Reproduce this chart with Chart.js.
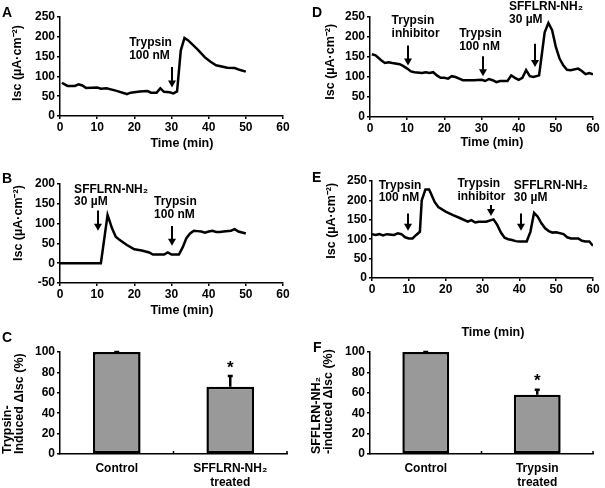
<!DOCTYPE html>
<html>
<head>
<meta charset="utf-8">
<script src="https://cdn.jsdelivr.net/npm/chart.js@4.4.1/dist/chart.umd.min.js"></script>
<style>
  body { margin: 0; background: #fff; width: 605px; height: 488px; position: relative; overflow: hidden;
         font-family: "Liberation Sans", Arial, sans-serif; }
  canvas { position: absolute; }
  .tag { position: absolute; font-weight: bold; font-size: 14px; line-height: 1; color: #000; }
</style>
</head>
<body>
<canvas id="cA" width="300" height="160" style="left:0;top:0"></canvas>
<canvas id="cB" width="300" height="160" style="left:0;top:160px"></canvas>
<canvas id="cC" width="300" height="168" style="left:0;top:320px"></canvas>
<canvas id="cD" width="305" height="160" style="left:300px;top:0"></canvas>
<canvas id="cE" width="305" height="180" style="left:300px;top:160px"></canvas>
<canvas id="cF" width="305" height="148" style="left:300px;top:340px"></canvas>
<div class="tag" style="left:2px;top:5px">A</div>
<div class="tag" style="left:2px;top:171px">B</div>
<div class="tag" style="left:2px;top:330px">C</div>
<div class="tag" style="left:312px;top:5px">D</div>
<div class="tag" style="left:312px;top:170px">E</div>
<div class="tag" style="left:313px;top:340px">F</div>
<script>
// panel A: trypsin alone
const timeA = [0.5, 2, 4, 5, 6, 7, 10, 11, 12.5, 15, 17.5, 18, 19, 21.5, 23.5, 24.5, 26, 27, 28, 29.5, 30.5, 31.5, 32.5, 33.5, 34.5, 37, 39, 40.5, 42, 45, 47, 48.5, 50];
const iscA  = [84, 76, 76, 80, 77, 71, 72, 69, 70, 64, 57, 55, 59, 62, 63, 59, 59, 70, 61, 60, 57, 62, 166, 197, 191, 168, 148, 137, 128, 122, 121, 116, 112];

// panel B: SFFLRN-NH2 then trypsin
const timeB = [0, 11, 12.8, 14, 15, 16, 18, 20, 22, 24, 25, 28, 29, 30, 32, 33, 34, 35, 36, 37, 38, 39, 40, 41, 42, 43, 44, 46, 47, 48, 50];
const iscB  = [0, 0, 122, 88, 67, 59, 46, 35, 32, 27, 22, 22, 27, 22, 22, 40, 63, 75, 82, 81, 80, 77, 80, 82, 79, 79, 80, 82, 86, 80, 75];

// panel D: inhibitor, trypsin, SFFLRN-NH2
const timeD = [0.5, 1.5, 3, 4, 5, 6, 8, 9, 10, 11, 12, 14, 15, 16, 17, 18, 19, 20, 21, 22, 23, 24, 25, 28, 30, 31, 32, 33, 34, 35, 37, 38, 39, 40, 41, 42, 43, 44, 45.5, 46, 47, 48, 49, 50, 51, 52, 53, 54, 56, 57, 58, 59, 60];
const iscD  = [157, 154, 142, 135, 137, 135, 132, 127, 121, 114, 112, 110, 112, 110, 112, 104, 98, 98, 96, 102, 100, 96, 92, 92, 93, 90, 95, 92, 87, 90, 90, 104, 98, 93, 98, 117, 102, 100, 104, 140, 212, 235, 217, 175, 146, 129, 118, 117, 121, 115, 107, 110, 107];

// panel E: trypsin, inhibitor, SFFLRN-NH2
const timeE = [0, 1, 2, 3, 4, 6, 7, 8, 9, 10, 11, 12, 13, 13.5, 14.5, 15.5, 16, 17, 18, 20, 22, 24, 26, 27, 28, 29, 31, 33, 34, 35, 36, 37, 38, 39, 40, 42, 43, 44, 45, 46, 47, 48, 49, 50, 52, 53, 54, 56, 57, 58, 59, 60];
const iscE  = [113, 111, 113, 110, 113, 111, 115, 113, 105, 102, 102, 111, 119, 200, 228, 228, 218, 196, 183, 171, 162, 154, 145, 149, 143, 145, 145, 151, 137, 117, 104, 100, 98, 95, 94, 94, 119, 168, 158, 141, 128, 121, 117, 118, 113, 105, 102, 102, 96, 94, 94, 83];

// panels C and F: normalised responses (%)
const groupsC = ["Control", ["SFFLRN-NH\u2082", "treated"]];
const valuesC = [100, 66];
const errorsC = [0, 10.5];
const starsC  = ["", "*"];

const groupsF = ["Control", ["Trypsin", "treated"]];
const valuesF = [100, 58];
const errorsF = [0, 5];
const starsF  = ["", "*"];

const FONT = '"Liberation Sans", Arial, sans-serif';
Chart.defaults.font.family = FONT;
Chart.defaults.color = "#000";

const tickFont = { size: 12, weight: "bold" };
const titleFont = { size: 12.5, weight: "bold", lineHeight: 1.2 };
const ISC = "Isc (\u00b5A\u00b7cm\u207b\u00b2)";
const TIME = "      Time (min)";
// leading blanks nudge the centred titles like in the figure
const pad = n => " ".repeat(n);

// text labels and drug-addition arrows, given in data units
function marks(notes, arrows) {
  return {
    id: "marks",
    afterDatasetsDraw(chart) {
      const { ctx, scales: { x, y } } = chart;
      ctx.save();
      ctx.fillStyle = "#000";
      ctx.strokeStyle = "#000";
      ctx.font = "bold 12px " + FONT;
      ctx.textAlign = "left";
      ctx.textBaseline = "middle";
      for (const n of notes) {
        const px = x.getPixelForValue(n.x);
        const py = y.getPixelForValue(n.y);
        n.lines.forEach((s, i) => ctx.fillText(s, px, py + i * 12.5));
      }
      ctx.lineWidth = 2;
      for (const a of arrows) {
        const px = Math.round(x.getPixelForValue(a.x));
        const p0 = y.getPixelForValue(a.from);
        const p1 = y.getPixelForValue(a.to);
        ctx.beginPath();
        ctx.moveTo(px, p0);
        ctx.lineTo(px, p1 - 5);
        ctx.stroke();
        ctx.beginPath();
        ctx.moveTo(px - 4, p1 - 7);
        ctx.lineTo(px + 4, p1 - 7);
        ctx.lineTo(px, p1);
        ctx.closePath();
        ctx.fill();
      }
      ctx.restore();
    }
  };
}

function errorBars(vals, errs, stars) {
  return {
    id: "errorBars",
    afterDatasetsDraw(chart) {
      const { ctx, chartArea, scales: { x, y } } = chart;
      const bars = chart.getDatasetMeta(0).data;
      ctx.save();
      ctx.strokeStyle = "#000";
      ctx.fillStyle = "#000";
      // small marks between the groups and at the axis end
      ctx.lineWidth = 1.5;
      for (let i = 1; i <= bars.length; i++) {
        const gx = x.getPixelForValue(i - 0.5);
        ctx.beginPath();
        ctx.moveTo(gx, chartArea.bottom);
        ctx.lineTo(gx, chartArea.bottom - 3);
        ctx.stroke();
      }
      ctx.lineWidth = 2.5;
      bars.forEach((bar, i) => {
        const top = y.getPixelForValue(vals[i] + errs[i]);
        ctx.beginPath();
        ctx.moveTo(bar.x, bar.y);
        ctx.lineTo(bar.x, top);
        ctx.moveTo(bar.x - 2.5, top);
        ctx.lineTo(bar.x + 2.5, top);
        ctx.stroke();
        if (stars[i]) {
          ctx.font = "bold 17px " + FONT;
          ctx.textAlign = "center";
          ctx.textBaseline = "middle";
          ctx.fillText(stars[i], bar.x, top - 8);
        }
      });
      ctx.restore();
    }
  };
}

function axisStyle() {
  return {
    grid: { drawOnChartArea: false, tickLength: 3, color: "#000", lineWidth: 1.5 },
    border: { color: "#000", width: 1.5 }
  };
}

function lineChart(id, t, v, c) {
  return new Chart(document.getElementById(id), {
    type: "line",
    data: {
      datasets: [{
        data: t.map((x, i) => ({ x, y: v[i] })),
        borderColor: "#000", borderWidth: 2.5, pointRadius: 0, tension: 0, fill: false
      }]
    },
    options: {
      responsive: false, animation: false,
      layout: { padding: { top: c.top, right: c.right, left: 0, bottom: 0 } },
      plugins: { legend: { display: false }, tooltip: { enabled: false } },
      scales: {
        x: {
          type: "linear", min: 0, max: 60,
          afterFit: s => { s.height = c.xH; },
          ticks: { stepSize: 10, padding: 1, font: tickFont, maxRotation: 0 },
          ...axisStyle(),
          title: { display: true, text: TIME, font: titleFont, padding: { top: 0, bottom: c.xPad } }
        },
        y: {
          min: c.yMin, max: c.yMax,
          afterFit: s => { s.width = c.yW; },
          ticks: { stepSize: 50, padding: 2, font: tickFont },
          ...axisStyle(),
          title: { display: true, text: pad(c.yShift) + ISC, font: titleFont, padding: { top: c.yPad, bottom: 0 } }
        }
      }
    },
    plugins: [marks(c.notes, c.arrows)]
  });
}

function barChart(id, groups, vals, errs, stars, c) {
  return new Chart(document.getElementById(id), {
    type: "bar",
    data: {
      labels: groups,
      datasets: [{
        data: vals,
        backgroundColor: "#999999", borderColor: "#000", borderWidth: 2.5, borderSkipped: false,
        barPercentage: 0.42, categoryPercentage: 1, clip: false
      }]
    },
    options: {
      responsive: false, animation: false,
      layout: { padding: { top: c.top, right: c.right, left: 0, bottom: 0 } },
      plugins: { legend: { display: false }, tooltip: { enabled: false } },
      scales: {
        x: {
          afterFit: s => { s.height = c.xH; },
          ticks: { padding: 7, font: tickFont, maxRotation: 0 },
          grid: { display: false, drawTicks: false },
          border: { color: "#000", width: 1.5 }
        },
        y: {
          min: 0, max: 100,
          afterFit: s => { s.width = c.yW; },
          ticks: { stepSize: 20, padding: 2, font: tickFont },
          ...axisStyle(),
          title: {
            display: true, text: c.yTitle, align: "start",
            font: { size: 12.5, weight: "bold", lineHeight: 0.95 },
            padding: { top: c.yPad, bottom: 0 }
          }
        }
      }
    },
    plugins: [errorBars(vals, errs, stars)]
  });
}

lineChart("cA", timeA, iscA, {
  top: 17, right: 17, xH: 44, yW: 60, yMin: 0, yMax: 250, xPad: 8.5, yPad: 10.5, yShift: 2,
  notes: [{ x: 18.6, y: 184, lines: ["Trypsin", "100 nM"] }],
  arrows: [{ x: 30, from: 124, to: 72 }]
});

lineChart("cB", timeB, iscB, {
  top: 24, right: 17, xH: 37, yW: 60, yMin: -50, yMax: 200, xPad: 1.5, yPad: 11, yShift: 6,
  notes: [
    { x: 3.8, y: 186, lines: ["SFFLRN-NH\u2082", "30 \u00b5M"] },
    { x: 25.3, y: 155, lines: ["Trypsin", "100 nM"] }
  ],
  arrows: [{ x: 10.2, from: 133, to: 82 }, { x: 30.1, from: 94, to: 44 }]
});

lineChart("cD", timeD, iscD, {
  top: 17, right: 12, xH: 43, yW: 70, yMin: 0, yMax: 250, xPad: 9.5, yPad: 23.5, yShift: 3,
  notes: [
    { x: 5.8, y: 240, lines: ["Trypsin", "inhibitor"] },
    { x: 24.0, y: 208, lines: ["Trypsin", "100 nM"] },
    { x: 37.4, y: 275, lines: ["SFFLRN-NH\u2082", "30 \u00b5M"] }
  ],
  arrows: [{ x: 10.3, from: 179, to: 129 }, { x: 30.3, from: 152, to: 102 }, { x: 44.3, from: 183, to: 125 }]
});

lineChart("cE", timeE, iscE, {
  top: 21, right: 12, xH: 62, yW: 72, yMin: 0, yMax: 250, xPad: 0, yPad: 24.5, yShift: 5,
  notes: [
    { x: 1.8, y: 239, lines: ["Trypsin", "100 nM"] },
    { x: 23.2, y: 243, lines: ["Trypsin", "inhibitor"] },
    { x: 38.5, y: 239, lines: ["SFFLRN-NH\u2082", "30 \u00b5M"] }
  ],
  arrows: [{ x: 9.9, from: 166, to: 122 }, { x: 32.2, from: 188, to: 160 }, { x: 40.4, from: 166, to: 122 }]
});

barChart("cC", groupsC, valuesC, errorsC, starsC, {
  top: 32, right: 13, xH: 34, yW: 60, yPad: 1.5,
  yTitle: ["Trypsin-", "Induced \u0394Isc (%)"]
});

barChart("cF", groupsF, valuesF, errorsF, starsF, {
  top: 12, right: 12, xH: 34, yW: 70, yPad: 11,
  yTitle: ["SFFLRN-NH\u2082", "-induced \u0394Isc (%)"]
});
</script>
</body>
</html>
